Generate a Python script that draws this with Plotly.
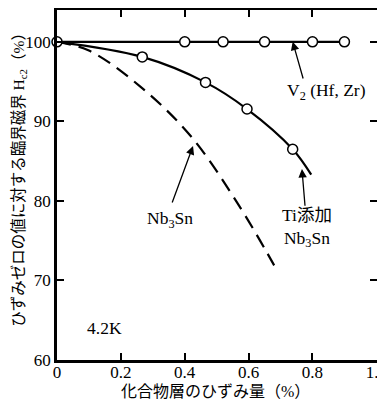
import plotly.graph_objects as go

# V2(Hf, Zr) data
v2_x = [0, 0.4, 0.52, 0.65, 0.8, 0.9]
v2_y = [100, 100, 100, 100, 100, 100]

# Ti-added Nb3Sn curve and measured points
ti_curve_x = [0, 0.267, 0.465, 0.595, 0.738, 0.796]
ti_curve_y = [100, 98.1, 94.9, 91.55, 86.5, 83.3]
ti_pts_x = [0.267, 0.465, 0.595, 0.738]
ti_pts_y = [98.1, 94.9, 91.55, 86.5]

# Nb3Sn dashed curve
nb_x = [0, 0.1, 0.26, 0.42, 0.57, 0.68]
nb_y = [100, 98.9, 94.4, 88.1, 79.4, 71.9]

x_ticks = [0, 0.2, 0.4, 0.6, 0.8, 1.0]
x_labels = ["0", "0.2", "0.4", "0.6", "0.8", "1.0"]
y_ticks = [60, 70, 80, 90, 100]
y_labels = ["60", "70", "80", "90", "100"]

SERIF = "Liberation Serif, Noto Sans CJK JP, serif"

fig = go.Figure()
fig.add_trace(go.Scatter(x=nb_x, y=nb_y, mode="lines", line=dict(color="black", width=2.2, dash="14px,8px", shape="spline"), hoverinfo="skip"))
fig.add_trace(go.Scatter(x=ti_curve_x, y=ti_curve_y, mode="lines", line=dict(color="black", width=2.2, shape="spline"), hoverinfo="skip"))
fig.add_trace(go.Scatter(x=v2_x, y=v2_y, mode="lines+markers", line=dict(color="black", width=2.2),
                         marker=dict(symbol="circle", size=10, color="white", line=dict(color="black", width=1.5)),
                         cliponaxis=False))
fig.add_trace(go.Scatter(x=ti_pts_x, y=ti_pts_y, mode="markers",
                         marker=dict(symbol="circle", size=10, color="white", line=dict(color="black", width=1.5)),
                         cliponaxis=False))

arrows = [
    (0.738, 100.0, 0.772, 95.2),
    (0.767, 84.0, 0.777, 79.2),
    (0.426, 86.9, 0.359, 79.6),
]
for hx, hy, tx, ty in arrows:
    fig.add_annotation(x=hx, y=hy, ax=tx, ay=ty, xref="x", yref="y", axref="x", ayref="y",
                       text="", showarrow=True, arrowhead=2, arrowsize=1.3, arrowwidth=1.3, arrowcolor="black")

labels = [
    ("V<sub>2</sub> (Hf, Zr)", 0.844, 93.7),
    ("Ti添加<br>Nb<sub>3</sub>Sn", 0.784, 76.7),
    ("Nb<sub>3</sub>Sn", 0.353, 77.7),
    ("4.2K", 0.15, 64.0),
]
for t, x, y in labels:
    fig.add_annotation(x=x, y=y, xref="x", yref="y", text=t, showarrow=False,
                       font=dict(family=SERIF, size=17.5, color="black"), xanchor="center", yanchor="middle")

fig.add_annotation(x=-0.116, y=0.526, xref="paper", yref="paper", textangle=-90,
                   text="ひずみゼロの値に対する臨界磁界 H<sub>c2</sub>（%）", showarrow=False,
                   font=dict(family=SERIF, size=15.5, color="black"), xanchor="center", yanchor="middle")
fig.add_annotation(x=0.495, y=-0.089, xref="paper", yref="paper",
                   text="化合物層のひずみ量（%）", showarrow=False,
                   font=dict(family=SERIF, size=16, color="black"), xanchor="center", yanchor="middle")

axis_common = dict(showline=True, linecolor="black", linewidth=2.8, mirror="allticks",
                   ticks="inside", ticklen=7, tickwidth=1.5, tickcolor="black",
                   showgrid=False, zeroline=False, automargin=False, ticklabeloverflow="allow",
                   tickfont=dict(family=SERIF, size=17, color="black"))
fig.update_xaxes(range=[0, 1.002], tickvals=x_ticks, ticktext=x_labels, ticklabelstandoff=-5, **axis_common)
fig.update_yaxes(range=[60, 104], tickvals=y_ticks, ticktext=y_labels, **axis_common)

# page body has an 8px default margin, so the figure is sized/offset to compensate
fig.update_layout(width=377, height=391, margin=dict(l=49, r=8, t=2, b=39),
                  plot_bgcolor="white", paper_bgcolor="white", showlegend=False)

fig.write_html("out.html")
